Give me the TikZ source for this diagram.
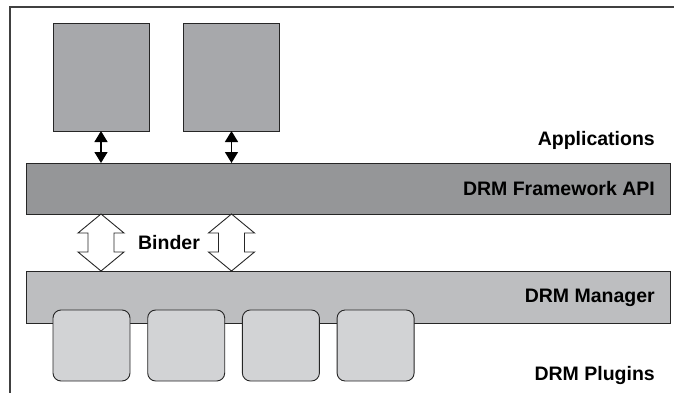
\documentclass[tikz,border=0pt]{standalone}
\usepackage{fontspec}
\newfontfamily\lblfont{Liberation Sans}
\usetikzlibrary{arrows.meta}

\definecolor{appgray}{HTML}{A7A8AB}
\definecolor{apigray}{HTML}{959698}
\definecolor{mgrgray}{HTML}{BDBEC0}
\definecolor{pluggray}{HTML}{D2D3D5}

\tikzset{
	frame/.style={draw=black!75, line width=1.3pt},
	box/.style={draw=black!85, line width=0.9pt, inner sep=0pt, outer sep=0pt},
	appbox/.style={box, fill=appgray, minimum width=96pt, minimum height=108pt},
	bar/.style={box, minimum width=644pt, minimum height=51pt},
	plugin/.style={box, fill=pluggray, rounded corners=8pt, minimum width=77pt, minimum height=71pt},
	lbl/.style={font=\lblfont\bfseries\fontsize{19.5}{22}\selectfont, inner sep=0pt, anchor=base east},
	apparrow/.style={line width=1.3pt, {Triangle[length=11pt,width=13pt]}-{Triangle[length=11pt,width=13pt]}},
	binder/.style={draw=black!85, line width=0.9pt, fill=white, line join=miter}
}

\begin{document}
\begin{tikzpicture}[x=1pt,y=-1pt]

	\useasboundingbox (0,0) rectangle (674,393);
	\draw[frame] (10,393) -- (10,7) -- (674,7);

	% applications
	\node[appbox] (app1) at (101,77) {};
	\node[appbox] (app2) at (231.5,77) {};
	\node[lbl] (applbl) at (655,145) {Applications};

	% framework and manager
	\node[bar, fill=apigray] (fw) at (348,188.5) {};
	\node[lbl] (fwlbl) at (655,195) {DRM Framework API};
	\node[bar, fill=mgrgray, minimum height=52pt] (mgr) at (348,297) {};
	\node[lbl] (mgrlbl) at (655,302) {DRM Manager};

	\draw[apparrow] (app1.south) -- (app1.south |- fw.north);
	\draw[apparrow] (app2.south) -- (app2.south |- fw.north);

	% binder
	\coordinate (b1) at (app1.south |- fw.south);
	\coordinate (b2) at (app2.south |- fw.south);
	\foreach \b in {b1,b2}{
		\begin{scope}[shift={(\b)}]
			\draw[binder] (0,0) -- (23,19) -- (13,19) -- (13,38) -- (23,38) -- (0,57)
				-- (-23,38) -- (-13,38) -- (-13,19) -- (-23,19) -- cycle;
		\end{scope}
	}
	\node[lbl, anchor=base] (bindlbl) at (169,249) {Binder};

	% plugins
	\foreach \i in {0,...,3}
		\node[plugin] (plug\i) at (91.5+\i*94.7,345.5) {};
	\node[lbl] (pluglbl) at (655,380) {DRM Plugins};

\end{tikzpicture}
\end{document}
